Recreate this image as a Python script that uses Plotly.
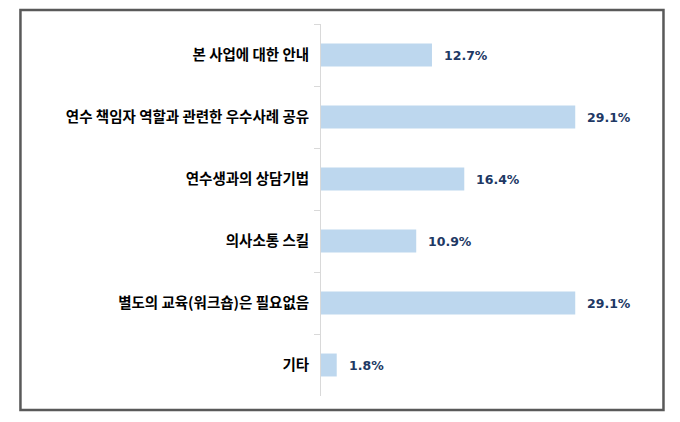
import plotly.graph_objects as go

categories = ["본 사업에 대한 안내", "연수 책임자 역할과 관련한 우수사례 공유", "연수생과의 상담기법",
              "의사소통 스킬", "별도의 교육(워크숍)은 필요없음", "기타"]
values = [12.7, 29.1, 16.4, 10.9, 29.1, 1.8]
labels = [f"{v:.1f}%" for v in values]

W, H = 680, 422
L, R, T, B = 321, 26.5, 24, 26
pw = W - L - R
ph = H - T - B
xmax = pw / 8.75

fig = go.Figure()
fig.add_trace(go.Bar(
    y=categories, x=values, orientation="h",
    marker=dict(color="#BDD7EE", line=dict(width=0)),
    hoverinfo="skip",
))
for c, v, t in zip(categories, values, labels):
    fig.add_annotation(x=v, y=c, text=t, showarrow=False, xanchor="left", xshift=10,
                       font=dict(family="DejaVu Sans", size=12.5, color="#203864", weight="bold"))

fig.add_shape(type="rect", xref="paper", yref="paper",
              x0=(20 - L) / pw, x1=(664 - L) / pw,
              y0=(H - B - 410) / ph, y1=(H - B - 10) / ph,
              line=dict(color="#595959", width=2.5), fillcolor="rgba(0,0,0,0)", layer="below")

fig.update_layout(
    width=W, height=H,
    margin=dict(l=L, r=R, t=T, b=B, pad=0),
    paper_bgcolor="white", plot_bgcolor="white",
    bargap=0.63, showlegend=False,
    xaxis=dict(range=[0, xmax], visible=False, fixedrange=True),
    yaxis=dict(autorange="reversed", showline=True, linecolor="#D9D9D9", linewidth=1,
               ticks="outside", ticklen=6, tickcolor="#D9D9D9", tickson="boundaries",
               tickfont=dict(family="Noto Sans CJK KR", size=14.5, color="#000000", weight="bold"),
               showgrid=False, zeroline=False, ticklabelstandoff=8),
)
fig.write_html("out.html")
